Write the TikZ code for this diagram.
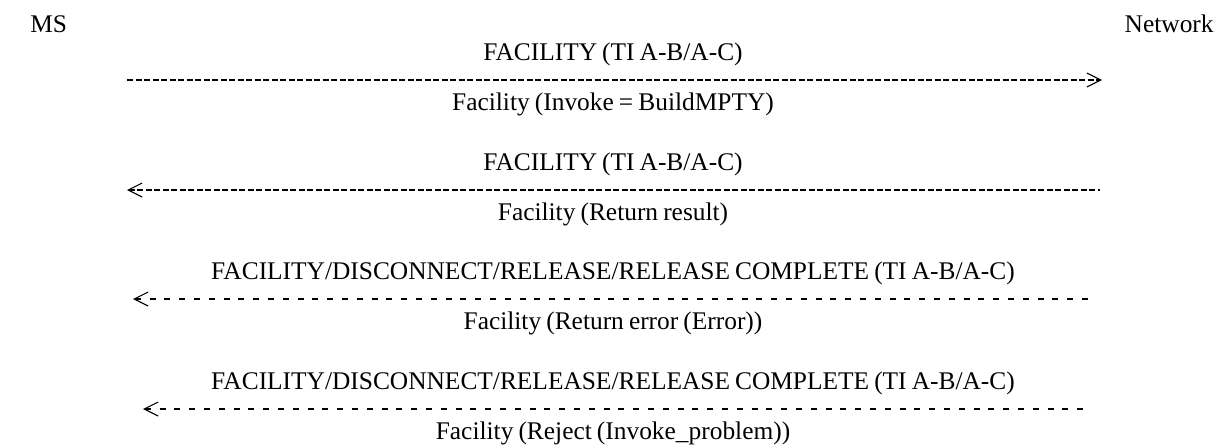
\documentclass[tikz,border=0pt]{standalone}
\usepackage{fontspec}
\setmainfont{Liberation Serif}[WordSpace=0.8]
\usetikzlibrary{arrows.meta}
\begin{document}
\begin{tikzpicture}[x=0.5pt,y=-0.5pt]
\tikzstyle{every node}=[font=\fontsize{12.7}{15}\selectfont, inner sep=0pt]
\tikzstyle{lbl}=[anchor=base]
\tikzstyle{fine}=[line width=0.85pt, dash pattern=on 3pt off 1.25pt]
\tikzstyle{coarse}=[line width=0.85pt, dash pattern=on 3pt off 4.4pt]
\tikzstyle{tipend}=[-{Straight Barb[length=7pt,width=7pt,line width=0.55pt]}]
\tikzstyle{tipstart}=[{Straight Barb[length=7pt,width=7pt,line width=0.55pt]}-]
\useasboundingbox (0,0) rectangle (1220,446);
\node[anchor=base west] (ms) at (30,32) {MS};
\node[anchor=base east] (net) at (1214,32) {Network};
% FACILITY, MS to network
\node[lbl] (msg1) at (613,60) {FACILITY (TI A-B/A-C)};
\coordinate (a1s) at (127,80);
\coordinate (a1e) at (1102,80);
\draw[fine,tipend] (a1s) -- (a1e);
\node[lbl] (ie1) at (613,110) {Facility (Invoke = BuildMPTY)};
% FACILITY, network to MS
\node[lbl] (msg2) at (613,170) {FACILITY (TI A-B/A-C)};
\coordinate (a2s) at (1100,190);
\coordinate (a2e) at (127,190);
\draw[fine,tipstart] (a2e) -- (a2s);
\node[lbl] (ie2) at (613,220) {Facility (Return result)};
% error
\node[lbl] (msg3) at (613,279) {FACILITY/DISCONNECT/RELEASE/RELEASE COMPLETE (TI A-B/A-C)};
\coordinate (a3s) at (1095,299);
\coordinate (a3e) at (133,299);
\draw[coarse,tipstart] (a3e) -- (a3s);
\node[lbl] (ie3) at (613,329) {Facility (Return error (Error))};
% reject
\node[lbl] (msg4) at (613,389) {FACILITY/DISCONNECT/RELEASE/RELEASE COMPLETE (TI A-B/A-C)};
\coordinate (a4s) at (1085,409);
\coordinate (a4e) at (143,409);
\draw[coarse,tipstart] (a4e) -- (a4s);
\node[lbl] (ie4) at (613,439) {Facility (Reject (Invoke\_problem))};
\end{tikzpicture}
\end{document}
